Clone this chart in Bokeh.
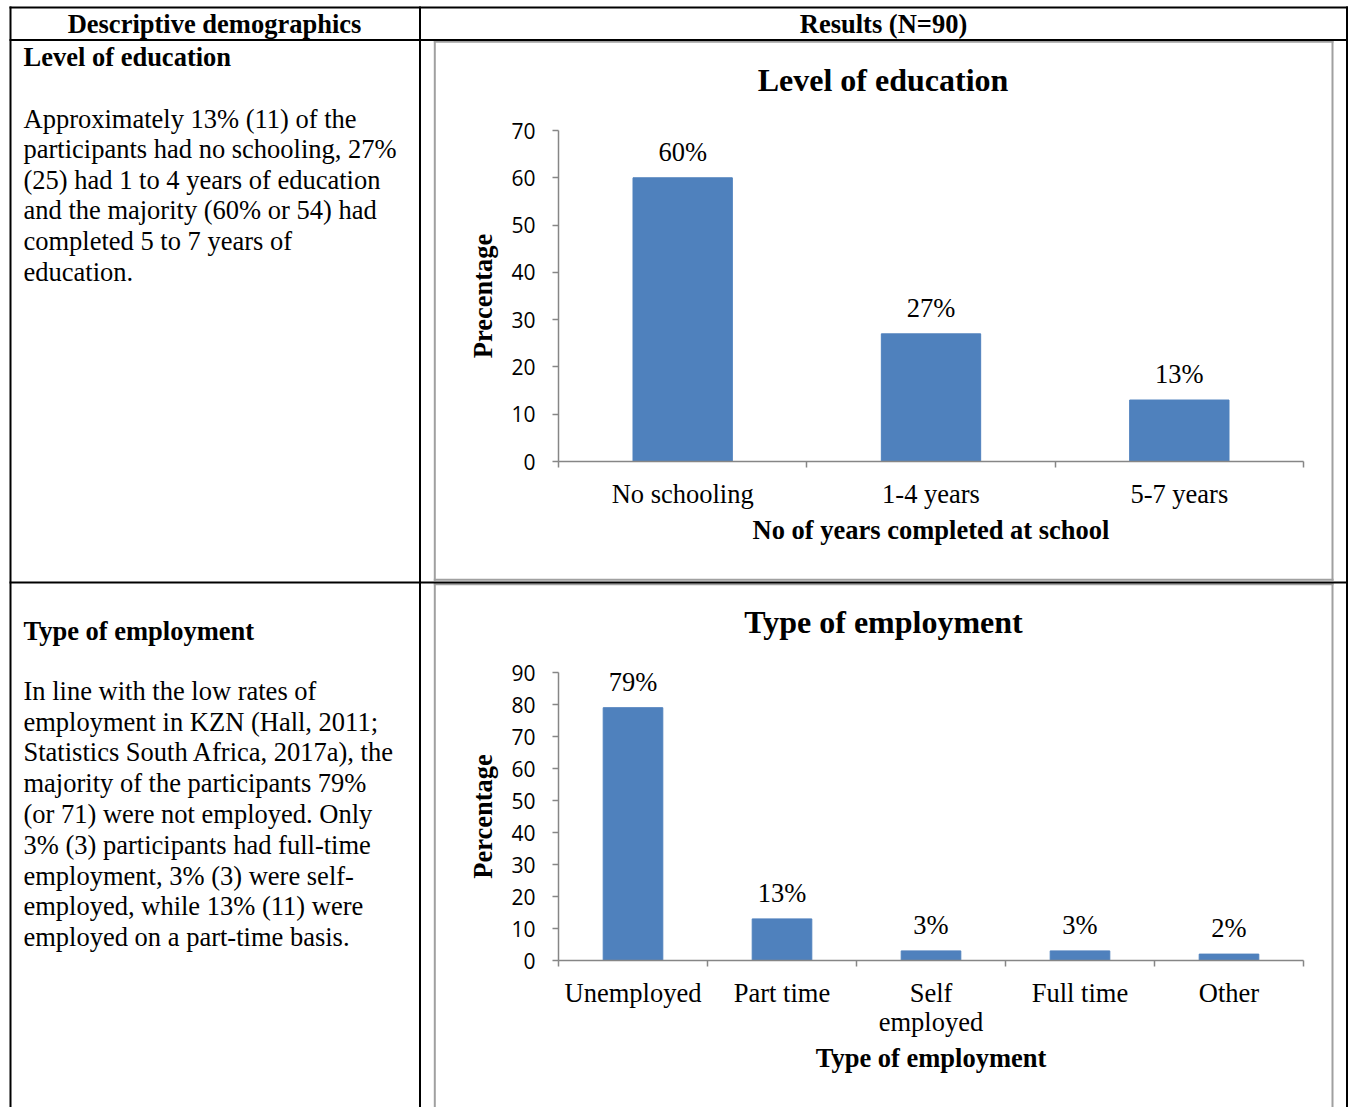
from bokeh.plotting import figure
from bokeh.models import (Range1d, FixedTicker, LabelSet, ColumnDataSource, LinearAxis)
from bokeh.embed import file_html
from bokeh.resources import INLINE
from bokeh.core.properties import value

# ---------------- data ----------------
edu_categories = ["No schooling", "1-4 years", "5-7 years"]
edu_percent = [60, 27, 13]
edu_y_ticks = [0, 10, 20, 30, 40, 50, 60, 70]

emp_categories = ["Unemployed", "Part time", "Self\nemployed", "Full time", "Other"]
emp_percent = [79, 13, 3, 3, 2]
emp_y_ticks = [0, 10, 20, 30, 40, 50, 60, 70, 80, 90]

header_left = "Descriptive demographics"
header_right = "Results (N=90)"

edu_heading = "Level of education"
edu_lines = [
    "Approximately 13% (11) of the",
    "participants had no schooling, 27%",
    "(25) had 1 to 4 years of education",
    "and the majority (60% or 54) had",
    "completed 5 to 7 years of",
    "education.",
]

emp_heading = "Type of employment"
emp_lines = [
    "In line with the low rates of",
    "employment in KZN (Hall, 2011;",
    "Statistics South Africa, 2017a), the",
    "majority of the participants 79%",
    "(or 71) were not employed. Only",
    "3% (3) participants had full-time",
    "employment, 3% (3) were self-",
    "employed, while 13% (11) were",
    "employed on a part-time basis.",
]

# ---------------- style ----------------
SERIF = "Liberation Serif"
SANS = "Open Sans"
TXT = "26.5px"
BAR = "#4F81BD"
AXIS = "#868686"
BOX = "#a0a0a0"

W, H = 1352, 1107

# The page is one canvas measured in pixels (y grows downwards); each chart
# gets its own value ranges mapped onto its plot area.
p = figure(width=W, height=H, x_range=Range1d(0, W), y_range=Range1d(H, 0),
           min_border=0, x_axis_location=None, y_axis_location=None,
           toolbar_location=None, output_backend="svg", outline_line_color=None,
           background_fill_color="white", border_fill_color="white")
p.grid.visible = False

# table rules and chart boxes, page pixels (x0, y0, x1, y1)
box_rules = [
    (433.3, 41.3, 1333, 41.3), (433.3, 579.3, 1333, 579.3),
    (434.3, 40.3, 434.3, 580.3), (1332, 40.3, 1332, 580.3),
    (433.3, 583.8, 1333, 583.8),
    (434.3, 582.8, 434.3, H), (1332, 582.8, 1332, H),
]
black_rules = [
    (9, 7, 1347.5, 7), (9, 39.5, 1347.5, 39.5), (9, 582, 1347.5, 582),
    (10, 6, 10, H), (419.5, 6, 419.5, H), (1346.5, 6, 1346.5, H),
]
for rules, color in ((box_rules, BOX), (black_rules, "black")):
    p.segment(x0=[r[0] for r in rules], y0=[r[1] for r in rules],
              x1=[r[2] for r in rules], y1=[r[3] for r in rules],
              line_color=color, line_width=2, line_cap="butt")


def write(xs, ys, texts, bold=False, align="left", size=TXT):
    """Text lines placed by their baseline, in page pixels."""
    src = ColumnDataSource(dict(x=xs, y=ys, text=texts))
    p.add_layout(LabelSet(x="x", y="y", text="text", source=src,
                          text_font=value(SERIF), text_font_size=size,
                          text_font_style="bold" if bold else "normal",
                          text_color="black", text_align=align,
                          text_baseline="alphabetic"))


def bar_chart(name, cats, vals, yticks, ylabel, xlabel, left, right, zero, top):
    """Bar chart whose plot area spans page pixels left..right and top..zero."""
    n = len(cats)
    xs = list(range(1, n + 1))
    lo, hi = 0.5, n + 0.5
    kx = (hi - lo) / (right - left)
    ky = yticks[-1] / (zero - top)
    xn, yn = name + "_x", name + "_y"
    p.extra_x_ranges = {**p.extra_x_ranges,
                        xn: Range1d(lo - left * kx, lo + (W - left) * kx)}
    p.extra_y_ranges = {**p.extra_y_ranges,
                        yn: Range1d(-(H - zero) * ky, zero * ky)}

    src = ColumnDataSource(dict(x=xs, top=vals, label=[f"{v}%" for v in vals]))
    p.vbar(x="x", top="top", width=0.4, source=src, fill_color=BAR, line_color=BAR,
           x_range_name=xn, y_range_name=yn)
    p.add_layout(LabelSet(x="x", y="top", text="label", source=src, y_offset=17,
                          x_range_name=xn, y_range_name=yn,
                          text_align="center", text_baseline="alphabetic",
                          text_font=value(SERIF), text_font_size=TXT, text_color="black"))

    xa = LinearAxis(x_range_name=xn, y_range_name=yn, fixed_location=0, bounds=(lo, hi))
    xa.ticker = FixedTicker(ticks=xs, minor_ticks=[i + 0.5 for i in range(n + 1)])
    xa.major_label_overrides = {x: c for x, c in zip(xs, cats)}
    xa.major_tick_out = 0
    xa.major_tick_in = 0
    xa.minor_tick_out = 6
    xa.minor_tick_in = 0
    xa.major_label_standoff = 11
    xa.major_label_text_font = SERIF
    xa.major_label_text_font_size = TXT
    xa.major_label_text_color = "black"
    xa.major_label_text_line_height = 0.97
    xa.axis_label = xlabel
    xa.axis_label_standoff = 3

    ya = LinearAxis(x_range_name=xn, y_range_name=yn, fixed_location=lo,
                    bounds=(0, yticks[-1]))
    ya.ticker = FixedTicker(ticks=yticks)
    ya.major_tick_out = 6
    ya.major_tick_in = 0
    ya.minor_tick_out = 0
    ya.minor_tick_in = 0
    ya.major_label_standoff = 17
    ya.major_label_text_font = SANS
    ya.major_label_text_font_size = "21px"
    ya.major_label_text_color = "black"
    ya.axis_label = ylabel
    ya.axis_label_standoff = 10

    for ax in (xa, ya):
        ax.axis_line_color = AXIS
        ax.axis_line_width = 1.5
        ax.major_tick_line_color = AXIS
        ax.major_tick_line_width = 1.5
        ax.minor_tick_line_color = AXIS
        ax.minor_tick_line_width = 1.5
        ax.axis_label_text_font = SERIF
        ax.axis_label_text_font_size = TXT
        ax.axis_label_text_font_style = "bold"
        ax.axis_label_text_color = "black"
    p.add_layout(xa, "below")
    p.add_layout(ya, "left")


# header row
write([214, 883], [32.7, 32.7], [header_left, header_right], bold=True, align="center")

# education row
write([23], [65], [edu_heading], bold=True)
write([23] * len(edu_lines), [127 + 30.6 * i for i in range(len(edu_lines))], edu_lines)
write([882.5], [90], ["Level of education"], bold=True, align="center", size="32px")
bar_chart("edu", edu_categories, edu_percent, edu_y_ticks,
          "Precentage", "No of years completed at school", 558, 1303, 461, 130)

# employment row
write([23], [639], [emp_heading], bold=True)
write([23] * len(emp_lines), [699.3 + 30.8 * i for i in range(len(emp_lines))], emp_lines)
write([883], [632.7], ["Type of employment"], bold=True, align="center", size="32px")
bar_chart("emp", emp_categories, emp_percent, emp_y_ticks,
          "Percentage", "Type of employment", 558, 1303, 960, 672)

open("out.html", "w").write(file_html(p, INLINE))
